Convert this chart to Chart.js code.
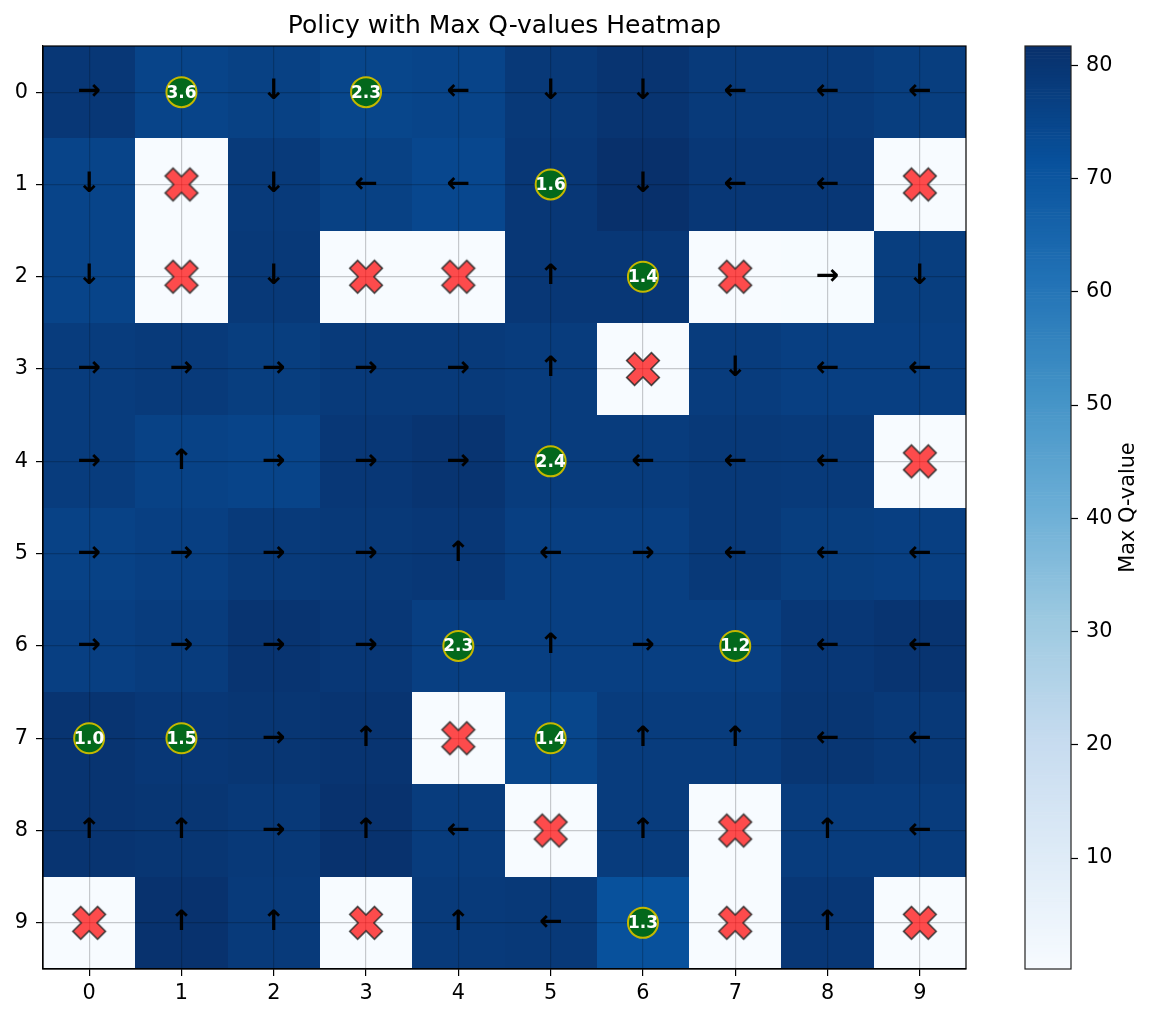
<!DOCTYPE html>
<html>
<head>
<meta charset="utf-8">
<script src="https://cdn.jsdelivr.net/npm/chart.js@4/dist/chart.umd.min.js"></script>
<style>
  html, body { margin: 0; padding: 0; background: #fff; }
  #wrap { position: relative; width: 1155px; height: 1020px; }
  #main { position: absolute; left: 0; top: 0; }
  #cbar { position: absolute; left: 1000px; top: 0; }
</style>
</head>
<body>
<div id="wrap">
  <canvas id="main" width="1155" height="1020"></canvas>
  <canvas id="cbar" width="155" height="1020"></canvas>
</div>
<script>
// ---------------- DATA ----------------
const chartTitle = 'Policy with Max Q-values Heatmap';
const colorbarLabel = 'Max Q-value';
const xTickLabels = ['0','1','2','3','4','5','6','7','8','9'];
const yTickLabels = ['0','1','2','3','4','5','6','7','8','9'];
const colorbarTicks = [10, 20, 30, 40, 50, 60, 70, 80];

// Max Q-value per cell, row by row (row 0 at top)
const qValues = [
  [79.5, 75.5, 76.5, 75.0, 75.5, 79.0, 80.5, 78.5, 78.5, 77.5],
  [75.5,  0.2, 78.5, 76.5, 74.5, 79.5, 81.7, 79.5, 79.5,  0.2],
  [75.5,  0.2, 79.0,  0.2,  0.2, 79.5, 79.5,  0.2,  0.5, 77.5],
  [78.0, 78.5, 77.5, 78.5, 78.5, 78.0,  0.2, 78.0, 77.0, 77.0],
  [78.0, 76.0, 75.5, 79.5, 80.5, 78.0, 78.0, 79.0, 78.5,  0.2],
  [76.0, 77.0, 78.5, 79.0, 79.5, 77.0, 77.0, 79.0, 77.5, 77.0],
  [77.0, 78.0, 80.5, 79.5, 77.0, 77.0, 77.0, 77.0, 79.5, 80.5],
  [80.5, 79.5, 80.0, 80.5,  0.2, 75.0, 78.0, 78.0, 80.0, 79.0],
  [80.5, 80.0, 79.0, 81.0, 78.0,  0.2, 78.0,  0.2, 78.0, 78.0],
  [ 0.2, 81.0, 78.5,  0.2, 78.5, 79.0, 71.5,  0.2, 79.5,  0.2]
];

// Greedy action per cell ('' where a goal or obstacle is drawn)
const policy = [
  ['→','','↓','','←','↓','↓','←','←','←'],
  ['↓','','↓','←','←','','↓','←','←',''],
  ['↓','','↓','','','↑','','','→','↓'],
  ['→','→','→','→','→','↑','','↓','←','←'],
  ['→','↑','→','→','→','','←','←','←',''],
  ['→','→','→','→','↑','←','→','←','←','←'],
  ['→','→','→','→','','↑','→','','←','←'],
  ['','','→','↑','','','↑','↑','←','←'],
  ['↑','↑','→','↑','←','','↑','','↑','←'],
  ['','↑','↑','','↑','←','','','↑','']
];

// Goals (green circles) : column, row, reward
const goalCol    = [1, 3, 5, 6, 5, 4, 7, 0, 1, 5, 6];
const goalRow    = [0, 0, 1, 2, 4, 6, 6, 7, 7, 7, 9];
const goalReward = [3.6, 2.3, 1.6, 1.4, 2.4, 2.3, 1.2, 1.0, 1.5, 1.4, 1.3];

// Obstacles (red X) : column, row
const obstacleCol = [1, 9, 1, 3, 4, 7, 6, 9, 4, 5, 7, 0, 3, 7, 9];
const obstacleRow = [1, 1, 2, 2, 2, 2, 3, 4, 7, 8, 8, 9, 9, 9, 9];

// ---------------- COLORMAP (matplotlib Blues) ----------------
const BLUES = [
  [247,251,255],[222,235,247],[198,219,239],[158,202,225],[107,174,214],
  [66,146,198],[33,113,181],[8,81,156],[8,48,107]
];
function blues(t) {
  t = Math.max(0, Math.min(1, t));
  const p = t * (BLUES.length - 1);
  const i = Math.min(BLUES.length - 2, Math.floor(p));
  const f = p - i;
  const a = BLUES[i], b = BLUES[i + 1];
  return 'rgb(' + [0,1,2].map(k => Math.round(a[k] + (b[k] - a[k]) * f)).join(',') + ')';
}
const flatQ = qValues.flat();
const vMin = Math.min(...flatQ);
const vMax = Math.max(...flatQ);

const FONT = "'DejaVu Sans', 'Liberation Sans', sans-serif";

// filled X marker (matplotlib 'X')
function makeXMarker() {
  const c = document.createElement('canvas');
  c.width = 42; c.height = 42;
  const g = c.getContext('2d');
  const s = 17.5, w = 5.6;
  const pts = [[-w,-s],[w,-s],[w,-w],[s,-w],[s,w],[w,w],[w,s],[-w,s],[-w,w],[-s,w],[-s,-w],[-w,-w]];
  g.translate(21, 21);
  g.rotate(Math.PI / 4);
  g.beginPath();
  pts.forEach((p, i) => i ? g.lineTo(p[0], p[1]) : g.moveTo(p[0], p[1]));
  g.closePath();
  g.fillStyle = 'rgba(255,0,0,0.7)';
  g.fill();
  g.lineWidth = 1.6;
  g.strokeStyle = 'rgba(40,40,40,0.85)';
  g.lineJoin = 'miter';
  g.stroke();
  return c;
}

// ---------------- PLUGINS ----------------
const heatmapPlugin = {
  id: 'heatmap',
  beforeDraw(chart) {
    const {ctx, scales: {x, y}} = chart;
    ctx.save();
    for (let r = 0; r < qValues.length; r++) {
      for (let c = 0; c < qValues[r].length; c++) {
        const x0 = x.getPixelForValue(c - 0.5), x1 = x.getPixelForValue(c + 0.5);
        const y0 = y.getPixelForValue(r - 0.5), y1 = y.getPixelForValue(r + 0.5);
        ctx.fillStyle = blues((qValues[r][c] - vMin) / (vMax - vMin));
        ctx.fillRect(Math.round(x0), Math.round(y0), Math.round(x1) - Math.round(x0), Math.round(y1) - Math.round(y0));
      }
    }
    ctx.restore();
  },
  afterDatasetsDraw(chart) {
    const {ctx, scales: {x, y}, chartArea} = chart;
    ctx.save();
    // arrows
    ctx.fillStyle = '#000';
    ctx.textAlign = 'center';
    ctx.textBaseline = 'middle';
    ctx.font = 'bold 28px ' + FONT;
    for (let r = 0; r < policy.length; r++) {
      for (let c = 0; c < policy[r].length; c++) {
        const a = policy[r][c];
        if (!a) continue;
        ctx.fillText(a, x.getPixelForValue(c), y.getPixelForValue(r));
      }
    }
    // goal labels
    ctx.fillStyle = '#fff';
    ctx.font = 'bold 17px ' + FONT;
    for (let i = 0; i < goalReward.length; i++) {
      ctx.fillText(goalReward[i].toFixed(1), x.getPixelForValue(goalCol[i]), y.getPixelForValue(goalRow[i]) + 1);
    }
    // frame
    ctx.strokeStyle = '#000';
    ctx.lineWidth = 1.2;
    ctx.strokeRect(chartArea.left, chartArea.top, chartArea.right - chartArea.left, chartArea.bottom - chartArea.top);
    // title
    ctx.fillStyle = '#000';
    ctx.font = '25px ' + FONT;
    ctx.textBaseline = 'alphabetic';
    ctx.fillText(chartTitle, (chartArea.left + chartArea.right) / 2, 33);
    ctx.restore();
  }
};

const tickFont = {family: FONT, size: 20.8};

new Chart(document.getElementById('main'), {
  type: 'scatter',
  data: {
    datasets: [
      {
        label: 'Goals',
        data: goalCol.map((c, i) => ({x: c, y: goalRow[i]})),
        pointRadius: 15,
        borderWidth: 2,
        backgroundColor: 'rgb(3,104,28)',
        borderColor: '#c4b800'
      },
      {
        label: 'Obstacles',
        data: obstacleCol.map((c, i) => ({x: c, y: obstacleRow[i]})),
        pointStyle: makeXMarker(),
        pointRadius: 18
      }
    ]
  },
  options: {
    responsive: false,
    devicePixelRatio: 1,
    animation: false,
    events: [],
    layout: {padding: {left: 0, right: 189, top: 46, bottom: 0}},
    plugins: {legend: {display: false}, tooltip: {enabled: false}, title: {display: false}},
    scales: {
      x: {
        type: 'linear', min: -0.5, max: 9.5, position: 'bottom',
        afterBuildTicks: s => { s.ticks = xTickLabels.map((_, i) => ({value: i})); },
        afterFit: s => { s.height = 51; },
        ticks: {callback: v => xTickLabels[v], font: tickFont, color: '#000', padding: 5, maxRotation: 0, autoSkip: false},
        grid: {color: 'rgba(0,0,0,0.2)', lineWidth: 1.2, tickColor: '#000', tickLength: 7, tickWidth: 1.2},
        border: {color: '#000', width: 1.2}
      },
      y: {
        type: 'linear', min: -0.5, max: 9.5, reverse: true, position: 'left',
        afterBuildTicks: s => { s.ticks = yTickLabels.map((_, i) => ({value: i})); },
        afterFit: s => { s.width = 43; },
        ticks: {callback: v => yTickLabels[v], font: tickFont, color: '#000', padding: 8, autoSkip: false},
        grid: {color: 'rgba(0,0,0,0.2)', lineWidth: 1.2, tickColor: '#000', tickLength: 7, tickWidth: 1.2},
        border: {color: '#000', width: 1.2}
      }
    }
  },
  plugins: [heatmapPlugin]
});

// ---------------- COLORBAR ----------------
const colorbarPlugin = {
  id: 'colorbar',
  beforeDraw(chart) {
    const {ctx, chartArea, scales: {y}} = chart;
    const N = 300;
    ctx.save();
    for (let i = 0; i < N; i++) {
      const v0 = vMin + (vMax - vMin) * i / N;
      const v1 = vMin + (vMax - vMin) * (i + 1) / N;
      const p0 = y.getPixelForValue(v0), p1 = y.getPixelForValue(v1);
      ctx.fillStyle = blues(((v0 + v1) / 2 - vMin) / (vMax - vMin));
      ctx.fillRect(chartArea.left, p1, chartArea.right - chartArea.left, p0 - p1 + 0.6);
    }
    ctx.restore();
  },
  afterDraw(chart) {
    const {ctx, chartArea} = chart;
    ctx.save();
    ctx.strokeStyle = '#222';
    ctx.lineWidth = 1.2;
    ctx.strokeRect(chartArea.left, chartArea.top, chartArea.right - chartArea.left, chartArea.bottom - chartArea.top);
    ctx.translate(129, (chartArea.top + chartArea.bottom) / 2);
    ctx.rotate(-Math.PI / 2);
    ctx.fillStyle = '#000';
    ctx.font = '20.8px ' + FONT;
    ctx.textAlign = 'center';
    ctx.textBaseline = 'middle';
    ctx.fillText(colorbarLabel, 0, 0);
    ctx.restore();
  }
};

new Chart(document.getElementById('cbar'), {
  type: 'scatter',
  data: {datasets: [{data: []}]},
  options: {
    responsive: false,
    devicePixelRatio: 1,
    animation: false,
    events: [],
    layout: {padding: {left: 25, right: 0, top: 46, bottom: 51}},
    plugins: {legend: {display: false}, tooltip: {enabled: false}},
    scales: {
      x: {display: false},
      y: {
        type: 'linear', position: 'right', min: vMin, max: vMax,
        afterBuildTicks: s => { s.ticks = colorbarTicks.map(v => ({value: v})); },
        afterFit: s => { s.width = 84; },
        ticks: {callback: v => String(v), font: tickFont, color: '#000', padding: 8, autoSkip: false},
        grid: {drawOnChartArea: false, tickColor: '#000', tickLength: 7, tickWidth: 1.2},
        border: {display: false}
      }
    }
  },
  plugins: [colorbarPlugin]
});
</script>
</body>
</html>
